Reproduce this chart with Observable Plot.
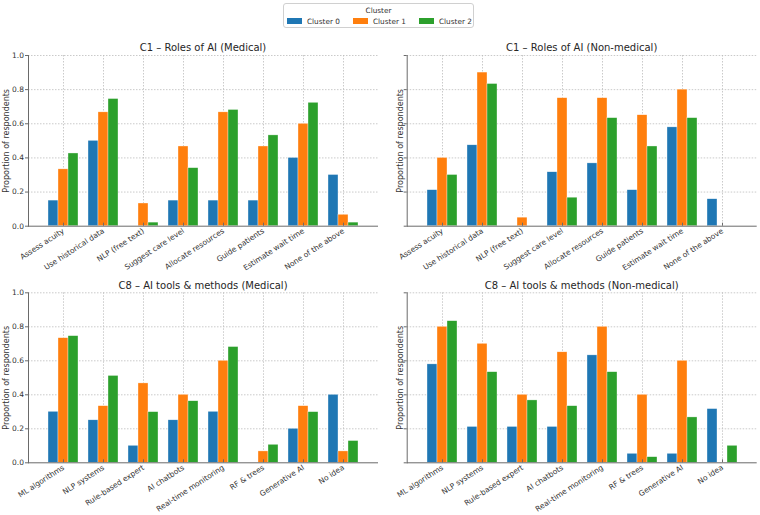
<!DOCTYPE html>
<html><head><meta charset="utf-8">
<script src="https://cdn.jsdelivr.net/npm/d3@7"></script>
<script src="https://cdn.jsdelivr.net/npm/@observablehq/plot@0.6"></script>
<style>
body{margin:0;background:#fff;font-family:"DejaVu Sans",sans-serif;}
#root{position:relative;width:760px;height:515px;overflow:hidden;background:#fff}
.panel{position:absolute}
.panel [aria-label="y-axis label"]{font-size:8px}
.title{position:absolute;font-size:10px;color:#262626;white-space:nowrap;transform:translate(-50%,-50%)}
.legend{position:absolute;left:283px;top:3px;width:191px;height:25px;border:1px solid #d0d0d0;border-radius:3px;box-sizing:border-box;font-size:7.3px;color:#333}
.legend .lt{position:absolute;left:0;right:0;top:1.5px;text-align:center}
.legend .item{position:absolute;top:12.5px;display:flex;align-items:center;gap:5px}
.legend .sw{width:15px;height:5.5px;display:inline-block}
</style></head><body><div id="root"></div>
<script>
const clusters = ["Cluster 0", "Cluster 1", "Cluster 2"];
const clusterColors = ["#1f77b4", "#ff7f0e", "#2ca02c"];
const yTicks = [0, 0.2, 0.4, 0.6, 0.8, 1.0];

const rolesCategories = ["Assess acuity", "Use historical data", "NLP (free text)", "Suggest care level", "Allocate resources", "Guide patients", "Estimate wait time", "None of the above"];
const toolsCategories = ["ML algorithms", "NLP systems", "Rule-based expert", "AI chatbots", "Real-time monitoring", "RF & trees", "Generative AI", "No idea"];

const rolesMedical0 = [0.15, 0.50, 0, 0.15, 0.15, 0.15, 0.40, 0.30];
const rolesMedical1 = [0.333, 0.667, 0.133, 0.467, 0.667, 0.467, 0.60, 0.067];
const rolesMedical2 = [0.426, 0.745, 0.021, 0.340, 0.681, 0.532, 0.723, 0.021];

const rolesNonMedical0 = [0.211, 0.474, 0, 0.316, 0.368, 0.211, 0.579, 0.158];
const rolesNonMedical1 = [0.40, 0.90, 0.05, 0.75, 0.75, 0.65, 0.80, 0];
const rolesNonMedical2 = [0.30, 0.833, 0, 0.167, 0.633, 0.467, 0.633, 0];

const toolsMedical0 = [0.30, 0.25, 0.10, 0.25, 0.30, 0, 0.20, 0.40];
const toolsMedical1 = [0.733, 0.333, 0.467, 0.40, 0.60, 0.067, 0.333, 0.067];
const toolsMedical2 = [0.745, 0.511, 0.298, 0.362, 0.681, 0.106, 0.298, 0.128];

const toolsNonMedical0 = [0.579, 0.211, 0.211, 0.211, 0.632, 0.053, 0.053, 0.316];
const toolsNonMedical1 = [0.80, 0.70, 0.40, 0.65, 0.80, 0.40, 0.60, 0];
const toolsNonMedical2 = [0.833, 0.533, 0.367, 0.333, 0.533, 0.033, 0.267, 0.10];

const panels = [
  {title: "C1 – Roles of AI (Medical)", cats: rolesCategories, series: [rolesMedical0, rolesMedical1, rolesMedical2], left: 0, top: 40, mt: 15, mb: 54.3, ml: 28, mr: 2, h: 240, labels: true, lo: 25, tx: 203, ty: 46.7},
  {title: "C1 – Roles of AI (Non-medical)", cats: rolesCategories, series: [rolesNonMedical0, rolesNonMedical1, rolesNonMedical2], left: 380, top: 40, mt: 15, mb: 54.3, ml: 26.7, mr: 3.3, h: 240, labels: false, lo: 10, tx: 581.7, ty: 46.7},
  {title: "C8 – AI tools & methods (Medical)", cats: toolsCategories, series: [toolsMedical0, toolsMedical1, toolsMedical2], left: 0, top: 280, mt: 12.3, mb: 52.7, ml: 28, mr: 2, h: 235, labels: true, lo: 25, tx: 203, ty: 285},
  {title: "C8 – AI tools & methods (Non-medical)", cats: toolsCategories, series: [toolsNonMedical0, toolsNonMedical1, toolsNonMedical2], left: 380, top: 280, mt: 12.3, mb: 52.7, ml: 26.7, mr: 3.3, h: 235, labels: false, lo: 10, tx: 581.7, ty: 285}
];

const root = document.getElementById("root");
const grid = {stroke: "#bdbdbd", strokeDasharray: "1.5,1.5", strokeWidth: 0.8, strokeOpacity: 1};
const spine = "#6a6a6a";
const SEP = "\u0001";
const key = (c, k) => c + SEP + k;

for (const p of panels) {
  const rows = [];
  p.cats.forEach((c, i) => clusters.forEach((k, j) => rows.push({category: c, cluster: k, value: p.series[j][i]})));
  // band domain: three bars per category, one empty slot between groups
  const domain = [];
  p.cats.forEach((c, i) => {
    clusters.forEach(k => domain.push(key(c, k)));
    if (i < p.cats.length - 1) domain.push("gap" + i);
  });
  const centers = p.cats.map(c => key(c, clusters[1]));
  const label = k => k.split(SEP)[0];
  const chart = Plot.plot({
    width: 380, height: p.h,
    marginTop: p.mt, marginBottom: p.mb, marginLeft: p.ml, marginRight: p.mr,
    style: {fontFamily: "DejaVu Sans", fontSize: "7.5px", color: "#333", background: "transparent", overflow: "visible"},
    x: {domain, paddingInner: 0, paddingOuter: 1.55, label: null},
    y: {domain: [0, 1]},
    color: {domain: clusters, range: clusterColors},
    marks: [
      Plot.gridY({ticks: yTicks.slice(1), ...grid}),
      Plot.gridX({ticks: centers, ...grid}),
      Plot.barY(rows, {x: d => key(d.category, d.cluster), y: "value", fill: "cluster", stroke: "white", strokeWidth: 0.5, strokeOpacity: 0.7}),
      Plot.axisY({ticks: yTicks, tickSize: 3, tickPadding: 1.5, tickFormat: p.labels ? d3.format(".1f") : () => "", label: null, stroke: spine}),
      Plot.axisY({ticks: [], tickSize: 0, label: "Proportion of respondents", labelAnchor: "center", labelOffset: p.lo, labelArrow: "none"}),
      Plot.axisX({ticks: centers, tickFormat: label, tickSize: 0, tickPadding: 4, tickRotate: -33, label: null}),
      Plot.axisX({ticks: centers, tickFormat: () => "", tickSize: -3, label: null, stroke: spine}),
      Plot.ruleY([0], {stroke: spine}),
      Plot.frame({anchor: "left", stroke: spine})
    ]
  });
  chart.classList.add("panel");
  chart.style.left = p.left + "px";
  chart.style.top = p.top + "px";
  root.appendChild(chart);
  const t = document.createElement("div");
  t.className = "title";
  t.textContent = p.title;
  t.style.left = p.tx + "px";
  t.style.top = p.ty + "px";
  root.appendChild(t);
}

const legend = document.createElement("div");
legend.className = "legend";
const lt = document.createElement("div");
lt.className = "lt";
lt.textContent = "Cluster";
legend.appendChild(lt);
const itemLeft = [3, 69, 135];
clusters.forEach((k, i) => {
  const it = document.createElement("div");
  it.className = "item";
  it.style.left = itemLeft[i] + "px";
  const sw = document.createElement("span");
  sw.className = "sw";
  sw.style.background = clusterColors[i];
  const tx = document.createElement("span");
  tx.textContent = k;
  it.appendChild(sw); it.appendChild(tx);
  legend.appendChild(it);
});
root.appendChild(legend);
</script>
</body></html>
